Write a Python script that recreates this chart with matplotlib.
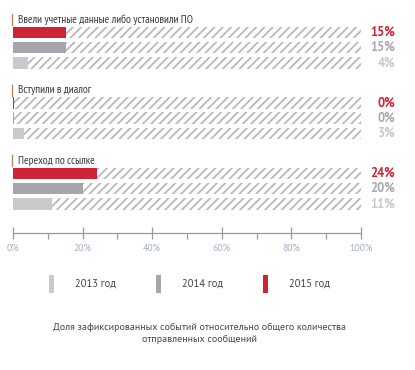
import matplotlib
matplotlib.use("Agg")
import matplotlib.pyplot as plt
from matplotlib.patches import Rectangle

plt.rcParams['font.family'] = ['PT Sans', 'DejaVu Sans']
plt.rcParams['hatch.linewidth'] = 1.3
NARROW = ['PT Sans Narrow', 'PT Sans', 'DejaVu Sans']

categories = ["Ввели учетные данные либо установили ПО",
              "Вступили в диалог",
              "Переход по ссылке"]
years = ["2015 год", "2014 год", "2013 год"]
values_2015 = [15.1, 0.3, 24.1]
values_2014 = [15.1, 0.3, 20.1]
values_2013 = [4.2, 3.2, 11.2]
series = [values_2015, values_2014, values_2013]
colors = ["#cf2336", "#a4a6ab", "#cacacc"]
label_colors = ["#cf2336", "#a6a8ad", "#c8c8ca"]
xticks = [0, 20, 40, 60, 80, 100]
xticklabels = ["0%", "20%", "40%", "60%", "80%", "100%"]
caption = "Доля зафиксированных событий относительно общего количества\nотправленных сообщений"

W, H = 415, 370
fig = plt.figure(figsize=(W / 100, H / 100), dpi=100)

x0, x1 = 13, 361
ytop, ybot = 12, 233
ax = fig.add_axes([x0 / W, (H - ybot) / H, (x1 - x0) / W, (ybot - ytop) / H])
ax.set_xlim(0, 100)
ax.set_ylim(ybot, ytop)

group_start = 32.5
group_step = 70.5
bar_offsets = [0, 15, 30.5]
bar_h = 11.5

for g, cat in enumerate(categories):
    base = group_start + g * group_step
    for s, vals in enumerate(series):
        y = base + bar_offsets[s]
        ax.barh(y, 100, height=bar_h, left=0, facecolor="white",
                edgecolor="#b9b9b9", hatch="////", linewidth=0)
        ax.barh(y, vals[g], height=bar_h, left=0, color=colors[s], linewidth=0)
        ax.text(109.8, y, f"{round(vals[g])}%", ha="right", va="center",
                fontsize=9, fontweight="bold", color=label_colors[s], clip_on=False)
    ty = base - 13
    ax.text(1.45, ty, cat, ha="left", va="center", fontsize=8.2, color="#3a3a3a",
            family=NARROW)
    ax.plot([-0.3, -0.3], [ty - 5.5, ty + 5.5], color="#b8895a", lw=1, clip_on=False)

for sp in ["top", "right", "left"]:
    ax.spines[sp].set_visible(False)
ax.spines["bottom"].set_color("#9a9a9a")
ax.spines["bottom"].set_linewidth(0.9)
ax.set_yticks([])
ax.set_xticks(xticks)
ax.set_xticklabels(xticklabels)
ax.set_xticks([10, 30, 50, 70, 90], minor=True)
ax.tick_params(axis="x", which="major", direction="inout", length=9, width=0.9,
               color="#9a9a9a", labelsize=7, labelcolor="#a5aec0", pad=3)
ax.tick_params(axis="x", which="minor", direction="out", length=4, width=0.9,
               color="#9a9a9a")

leg_items = [("2013 год", colors[2], 49, 75), ("2014 год", colors[1], 156, 182),
             ("2015 год", colors[0], 263, 289)]
for lab, col, rx, tx in leg_items:
    fig.add_artist(Rectangle((rx / W, (H - 293) / H), 5 / W, 18 / H,
                             transform=fig.transFigure, color=col, lw=0))
    fig.text(tx / W, (H - 284) / H, lab, ha="left", va="center",
             fontsize=7.6, color="#444444")

fig.text(199 / W, (H - 333.5) / H, caption, ha="center", va="center",
         fontsize=7.2, color="#444444", linespacing=1.45)

fig.savefig("out.png", dpi=100)
